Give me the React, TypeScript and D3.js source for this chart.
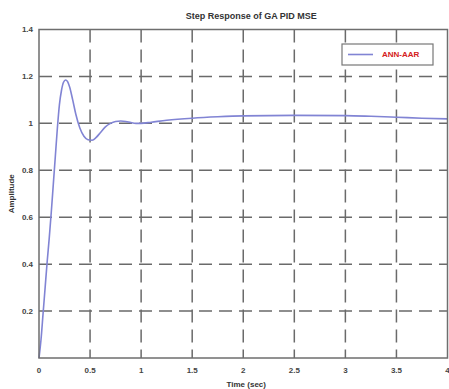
import React, { useEffect, useRef } from 'react';
import * as d3 from 'd3';

// step response samples
const timeValues = [0, 0.02, 0.04, 0.06, 0.08, 0.1, 0.12, 0.14, 0.16, 0.18, 0.2, 0.22, 0.24, 0.26, 0.28, 0.3, 0.33, 0.36, 0.4, 0.44, 0.48, 0.52, 0.56, 0.6, 0.65, 0.7, 0.75, 0.8, 0.85, 0.9, 0.95, 1.0, 1.1, 1.25, 1.5, 1.75, 2.0, 2.5, 3.0, 3.25, 3.5, 3.75, 4.0];
const amplitudeValues = [0, 0.08, 0.19, 0.3, 0.41, 0.51, 0.62, 0.74, 0.86, 0.98, 1.08, 1.14, 1.175, 1.185, 1.178, 1.155, 1.1, 1.04, 0.98, 0.945, 0.93, 0.928, 0.94, 0.96, 0.985, 1.0, 1.008, 1.01, 1.008, 1.003, 1.0, 1.0, 1.005, 1.013, 1.022, 1.028, 1.032, 1.034, 1.033, 1.03, 1.026, 1.022, 1.019];

const xTicks = [0, 0.5, 1, 1.5, 2, 2.5, 3, 3.5, 4];
const xTickLabels = ['0', '0.5', '1', '1.5', '2', '2.5', '3', '3.5', '4'];
const yTicks = [0.2, 0.4, 0.6, 0.8, 1, 1.2, 1.4];
const yTickLabels = ['0.2', '0.4', '0.6', '0.8', '1', '1.2', '1.4'];
const seriesName = 'ANN-AAR';

const App = () => {
  const svgRef = useRef<SVGSVGElement>(null);

  useEffect(() => {
    const width = 449;
    const height = 389;
    const svg = d3.select(svgRef.current);
    svg.selectAll('*').remove();

    const margin = { top: 29.5, right: 1.5, bottom: 31, left: 39 };
    const innerWidth = width - margin.left - margin.right;
    const innerHeight = height - margin.top - margin.bottom;

    svg.attr('width', width).attr('height', height);
    svg.append('rect').attr('width', width).attr('height', height).attr('fill', 'white');

    const g = svg.append('g').attr('transform', `translate(${margin.left},${margin.top})`);

    const x = d3.scaleLinear().domain([0, 4]).range([0, innerWidth]);
    const y = d3.scaleLinear().domain([0, 1.4]).range([innerHeight, 0]);

    // dashed grid
    g.selectAll('.vgrid')
      .data(xTicks.slice(1, -1))
      .enter()
      .append('line')
      .attr('x1', d => x(d))
      .attr('x2', d => x(d))
      .attr('y1', 0)
      .attr('y2', innerHeight)
      .attr('stroke', '#6a6a6a')
      .attr('stroke-width', 1.5)
      .attr('stroke-dasharray', '13,7');

    g.selectAll('.hgrid')
      .data(yTicks.slice(0, -1))
      .enter()
      .append('line')
      .attr('x1', 0)
      .attr('x2', innerWidth)
      .attr('y1', d => y(d))
      .attr('y2', d => y(d))
      .attr('stroke', '#6a6a6a')
      .attr('stroke-width', 1.5)
      .attr('stroke-dasharray', '13,7');

    // response curve
    const points = timeValues.map((t, i) => [t, amplitudeValues[i]] as [number, number]);
    const line = d3.line<[number, number]>()
      .x(d => x(d[0]))
      .y(d => y(d[1]))
      .curve(d3.curveMonotoneX);

    g.append('path')
      .datum(points)
      .attr('d', line)
      .attr('fill', 'none')
      .attr('stroke', '#8184d4')
      .attr('stroke-width', 1.6);

    // axes box
    g.append('rect')
      .attr('width', innerWidth)
      .attr('height', innerHeight)
      .attr('fill', 'none')
      .attr('stroke', '#6e6e6e')
      .attr('stroke-width', 1.5);

    // tick labels
    g.selectAll('.xlab')
      .data(xTicks)
      .enter()
      .append('text')
      .attr('x', d => x(d))
      .attr('y', innerHeight + 15)
      .attr('text-anchor', 'middle')
      .style('font-family', 'Liberation Sans, Arial, sans-serif')
      .style('font-size', '8px')
      .style('font-weight', 'bold')
      .attr('fill', '#444')
      .text((d, i) => xTickLabels[i]);

    g.selectAll('.ylab')
      .data(yTicks)
      .enter()
      .append('text')
      .attr('x', -6)
      .attr('y', d => y(d))
      .attr('dy', '0.35em')
      .attr('text-anchor', 'end')
      .style('font-family', 'Liberation Sans, Arial, sans-serif')
      .style('font-size', '8px')
      .style('font-weight', 'bold')
      .attr('fill', '#444')
      .text((d, i) => yTickLabels[i]);

    // title and axis labels
    svg.append('text')
      .attr('x', margin.left + innerWidth / 2 + 8)
      .attr('y', 19)
      .attr('text-anchor', 'middle')
      .style('font-family', 'Liberation Sans, Arial, sans-serif')
      .style('font-size', '9px')
      .style('font-weight', 'bold')
      .attr('fill', '#333')
      .text('Step Response of GA PID MSE');

    svg.append('text')
      .attr('transform', `translate(14, ${margin.top + innerHeight / 2}) rotate(-90)`)
      .attr('text-anchor', 'middle')
      .style('font-family', 'Liberation Sans, Arial, sans-serif')
      .style('font-size', '8px')
      .style('font-weight', 'bold')
      .attr('fill', '#333')
      .text('Amplitude');

    svg.append('text')
      .attr('x', margin.left + innerWidth / 2 + 3)
      .attr('y', height - 2)
      .attr('text-anchor', 'middle')
      .style('font-family', 'Liberation Sans, Arial, sans-serif')
      .style('font-size', '8px')
      .style('font-weight', 'bold')
      .attr('fill', '#333')
      .text('Time (sec)');

    // legend
    const legend = svg.append('g').attr('transform', 'translate(342, 44)');
    legend.append('rect')
      .attr('width', 91)
      .attr('height', 21)
      .attr('fill', 'white')
      .attr('stroke', '#777')
      .attr('stroke-width', 1.2);
    legend.append('line')
      .attr('x1', 6)
      .attr('x2', 31)
      .attr('y1', 10.5)
      .attr('y2', 10.5)
      .attr('stroke', '#8184d4')
      .attr('stroke-width', 1.6);
    legend.append('text')
      .attr('x', 40)
      .attr('y', 10.5)
      .attr('dy', '0.35em')
      .style('font-family', 'Liberation Sans, Arial, sans-serif')
      .style('font-size', '8px')
      .style('font-weight', 'bold')
      .attr('fill', '#d42020')
      .text(seriesName);
  }, []);

  return (
    <div style={{ position: 'absolute', left: 0, top: 0 }}>
      <svg ref={svgRef}></svg>
    </div>
  );
};

export default App;
